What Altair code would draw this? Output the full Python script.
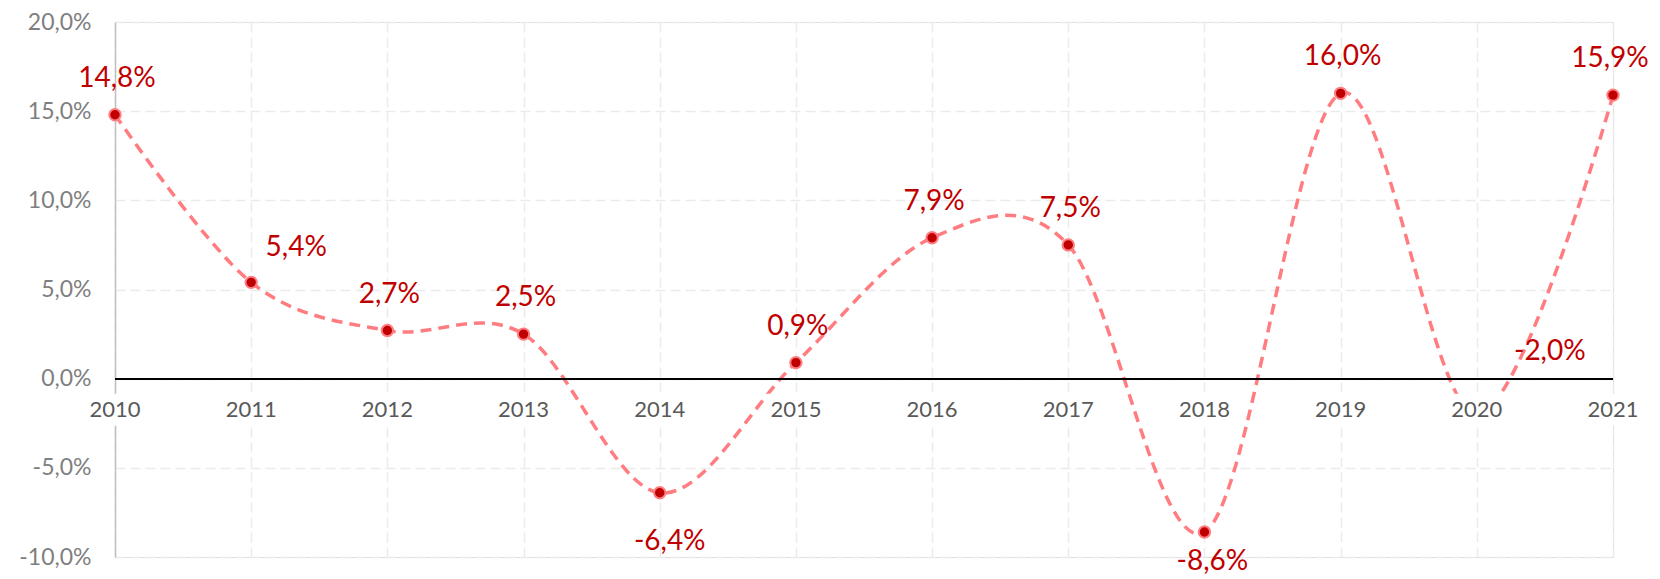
import altair as alt
import pandas as pd

years = [2010, 2011, 2012, 2013, 2014, 2015, 2016, 2017, 2018, 2019, 2020, 2021]
values = [14.8, 5.4, 2.7, 2.5, -6.4, 0.9, 7.9, 7.5, -8.6, 16.0, -2.0, 15.9]
y_ticks = [-10, -5, 0, 5, 10, 15, 20]

df = pd.DataFrame({"year": years, "value": values})

FONT = "Lato"
RED = "#C00000"
LINE = "#FF7C80"
GRID = "#EBEBEB"
FMT = "replace(replace(format(datum.value, '.1f'), '.', ','), '\u2212', '-') + '%'"

x_enc = alt.X(
    "year:Q",
    scale=alt.Scale(domain=[2010, 2021], nice=False, zero=False),
    axis=alt.Axis(
        values=years, labels=False, ticks=False, domain=False, title=None,
        grid=True, gridColor=GRID, gridDash=[10, 5], gridWidth=1.5,
    ),
)
y_enc = alt.Y(
    "value:Q",
    scale=alt.Scale(domain=[-10, 20], nice=False, zero=False),
    axis=alt.Axis(
        values=y_ticks, title=None, ticks=False, domain=True,
        domainColor="#BFBFBF", domainWidth=1.5,
        grid=True, gridColor=GRID, gridDash=[10, 5], gridWidth=1.5,
        labelExpr=FMT,
        labelFont=FONT, labelFontSize=23, labelColor="#7F7F7F", labelPadding=24,
    ),
)

base = alt.Chart(df).transform_calculate(label=FMT)

zero = base.mark_rule(color="black", strokeWidth=1.5).encode(
    y=alt.datum(0), x=alt.value(0), x2=alt.value(1498)
)

line = base.mark_line(
    color=LINE, strokeWidth=3.5, strokeDash=[11, 7], interpolate="cardinal", tension=0
).encode(x=x_enc, y=y_enc)

points = base.mark_point(
    filled=True, fill=RED, stroke=LINE, strokeWidth=2, size=130, opacity=1
).encode(x="year:Q", y="value:Q")

boxes = base.mark_point(
    shape="M-1,-0.5L1,-0.5L1,0.5L-1,0.5Z", filled=True, fill="white",
    strokeWidth=0, size=4096, opacity=1, yOffset=31,
).encode(x="year:Q", y=alt.datum(0))

year_labels = base.mark_text(
    font=FONT, fontSize=22, color="#595959", dy=31, baseline="middle", align="center"
).encode(x="year:Q", y=alt.datum(0), text="year:N")


def lbl(sel, dx, dy):
    return base.transform_filter(
        alt.FieldOneOfPredicate(field="year", oneOf=sel)
    ).mark_text(
        font=FONT, fontSize=28, color=RED, dx=dx, dy=dy, baseline="middle", align="center"
    ).encode(x="year:Q", y="value:Q", text="label:N")


labels_above = lbl([2010, 2012, 2013, 2015, 2016, 2017, 2019], 2, -36)
label_2021 = lbl([2021], -3, -36)
label_2011 = lbl([2011], 45, -34)
label_2014 = lbl([2014], 10, 49)
label_2018 = lbl([2018], 8, 30)
label_2020 = lbl([2020], 73, -62)

chart = alt.layer(
    line, zero, points, boxes, year_labels,
    labels_above, label_2021, label_2011, label_2014, label_2018, label_2020,
).properties(
    width=1498, height=535,
    autosize=alt.AutoSizeParams(type="none"),
    padding={"left": 107, "top": 14, "right": 39, "bottom": 20},
).configure_view(strokeWidth=0).configure(background="white")

chart.save("out.html", embed_options={"renderer": "svg", "actions": False})
